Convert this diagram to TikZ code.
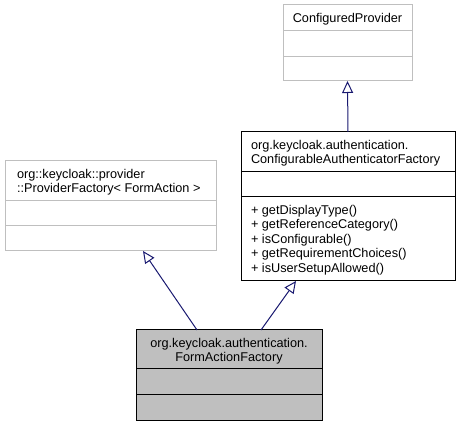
\documentclass[tikz,border=0pt]{standalone}
\usepackage{fontspec}
\setmainfont{Liberation Sans}
\usetikzlibrary{arrows.meta}
\definecolor{edgeblue}{HTML}{191970}
\definecolor{boxgray}{HTML}{BFBFBF}
\begin{document}
\begin{tikzpicture}[x=1pt,y=-1pt]
\tikzstyle{every node}=[inner sep=0pt, outer sep=0pt, font=\fontsize{12.7}{14.5}\selectfont]
\tikzstyle{classbox}=[draw=black, line width=1pt, anchor=north west]
\tikzstyle{graybox}=[classbox, draw=boxgray]
\tikzstyle{leftlabel}=[align=left, anchor=north west]
\tikzstyle{midlabel}=[align=center, anchor=north]
\tikzstyle{inherit}=[draw=edgeblue, line width=1pt, -{Triangle[open, length=12pt, width=11pt, fill=white]}]
\useasboundingbox (0,0) rectangle (461,427);

% ConfiguredProvider
\node[graybox, minimum width=129pt, minimum height=76pt] (cp) at (283,5) {};
\draw[boxgray, line width=1pt] ([yshift=-26pt]cp.north west) -- ([yshift=-26pt]cp.north east);
\draw[boxgray, line width=1pt] ([yshift=-52pt]cp.north west) -- ([yshift=-52pt]cp.north east);
\node[midlabel] (cp title) at ([yshift=-8pt]cp.north) {ConfiguredProvider};

% ConfigurableAuthenticatorFactory
\node[classbox, minimum width=214pt, minimum height=149pt] (caf) at (241,132) {};
\draw[line width=1pt] ([yshift=-40pt]caf.north west) -- ([yshift=-40pt]caf.north east);
\draw[line width=1pt] ([yshift=-65pt]caf.north west) -- ([yshift=-65pt]caf.north east);
\node[leftlabel] (caf title) at ([xshift=10pt,yshift=-8pt]caf.north west)
  {org.keycloak.authentication.\\ConfigurableAuthenticatorFactory};
\node[leftlabel] (caf ops) at ([xshift=10pt,yshift=-73pt]caf.north west)
  {+ getDisplayType()\\+ getReferenceCategory()\\+ isConfigurable()\\+ getRequirementChoices()\\+ isUserSetupAllowed()};

% ProviderFactory< FormAction >
\node[graybox, minimum width=211pt, minimum height=90pt] (pf) at (5,161) {};
\draw[boxgray, line width=1pt] ([yshift=-40pt]pf.north west) -- ([yshift=-40pt]pf.north east);
\draw[boxgray, line width=1pt] ([yshift=-65pt]pf.north west) -- ([yshift=-65pt]pf.north east);
\node[leftlabel] (pf title) at ([xshift=12pt,yshift=-8pt]pf.north west)
  {org::keycloak::provider\\::ProviderFactory< FormAction >};

% FormActionFactory
\node[classbox, fill=boxgray, minimum width=186pt, minimum height=91pt] (faf) at (136,330) {};
\draw[line width=1pt] ([yshift=-39pt]faf.north west) -- ([yshift=-39pt]faf.north east);
\draw[line width=1pt] ([yshift=-65pt]faf.north west) -- ([yshift=-65pt]faf.north east);
\node[midlabel] (faf title) at ([yshift=-8pt]faf.north)
  {org.keycloak.authentication.\\FormActionFactory};

% generalisations
\draw[inherit] ([xshift=-32pt]faf.north) -- ([xshift=32.5pt]pf.south);
\draw[inherit] ([xshift=32pt]faf.north) -- ([xshift=-52pt]caf.south);
\draw[inherit] (caf.north) -- (cp.south);

\end{tikzpicture}
\end{document}
